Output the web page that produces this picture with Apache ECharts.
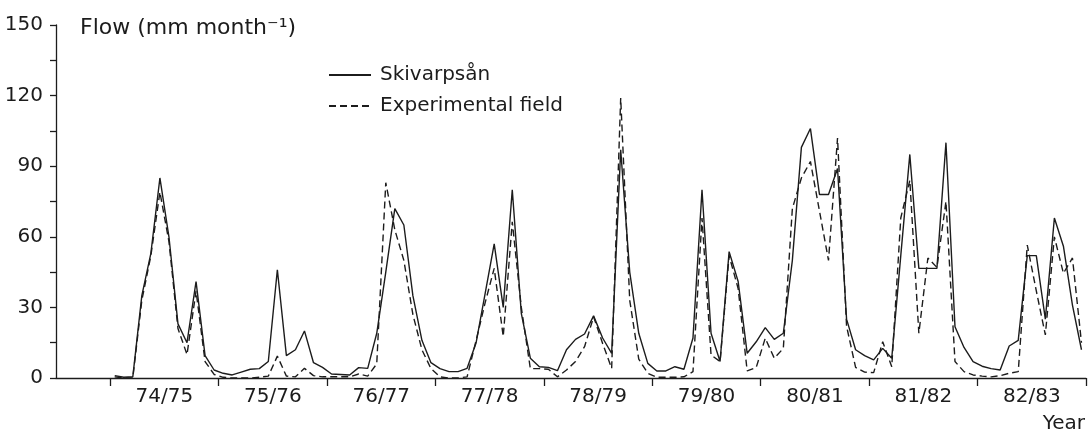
<!DOCTYPE html>
<html>
<head>
<meta charset="utf-8">
<script src="https://cdn.jsdelivr.net/npm/echarts@6/dist/echarts.min.js"></script>
<style>
    html, body { margin: 0; padding: 0; background: #fff; }
    #chart { width: 1088px; height: 437px; }
</style>
</head>
<body>
<div id="chart"></div>
<script>

const years = ['74/75', '75/76', '76/77', '77/78', '78/79', '79/80', '80/81', '81/82', '82/83'];

// monthly flow, 12 values per hydrological year
const skivarpsan = [
    1, 0.3, 0.5, 35, 53, 85, 60, 23, 15, 41, 9.5, 3.4,
    2, 1.3, 2.5, 3.7, 4, 7, 46, 9.5, 12, 20, 6.5, 4.5,
    1.7, 1.5, 1.3, 4.4, 4.1, 19, 45, 72, 65, 35, 16, 6.5,
    4, 2.7, 2.7, 4.1, 15, 36, 57, 30, 80, 27.5, 8.4, 4.8,
    4.5, 3.1, 12, 16.4, 18.7, 26.4, 17, 10.5, 97, 45, 19, 6.2,
    3, 3, 4.8, 3.7, 17, 80, 19, 7, 53.7, 41, 10.5, 15.4,
    21.4, 16.4, 19, 50, 98, 106, 78, 78, 89, 25, 12, 9.5,
    7.7, 12.6, 8.4, 52, 95, 46.6, 46.6, 46.6, 100, 21.8, 13, 7,
    5, 4, 3.4, 13.6, 16, 52, 52, 25, 68, 56, 31, 12
];

const experimentalField = [
    0.5, 0, 0, 33, 52, 79, 58, 21, 10, 37, 7, 1.5,
    0.3, 0, 0, 0, 0.3, 0.8, 9.3, 0.8, 0.5, 4.1, 1, 0.5,
    0.5, 0.5, 0.5, 1.7, 0.8, 6, 83, 63, 50, 27, 12, 4,
    0.5, 0, 0, 0.5, 16, 32, 46.6, 17.6, 66.4, 30, 4, 4,
    3.7, 0.5, 3.4, 7, 13.3, 26, 14.7, 4.1, 119, 33, 8, 2,
    0.3, 0.3, 0.3, 0.5, 2.7, 68, 9.8, 7, 52, 38, 3, 4.5,
    16.9, 8.4, 12.6, 72, 85, 92, 71, 50, 102, 22, 4.5, 2.5,
    2.3, 15.4, 4.8, 68, 84, 19, 51, 47, 75, 7, 2.7, 1.3,
    0.8, 0.5, 1, 2, 2.7, 56.5, 37, 18.3, 60, 44.5, 51, 15
];

const font = '"DejaVu Sans", sans-serif';
const ink = '#1c1c1c';

const chart = echarts.init(document.getElementById('chart'));

// months sit in the middle of their slot, year boundaries on multiples of 12
const toPoints = (arr) => arr.map((v, i) => [i + 0.5, v]);
const yearEdges = years.map((_, i) => i * 12).concat([years.length * 12]);
const yearMids = years.map((_, i) => i * 12 + 6);

const option = {
    animation: false,
    grid: {
        left: 56,
        right: 2,
        top: 25,
        bottom: 59
    },
    legend: {
        orient: 'vertical',
        left: 323,
        top: 59,
        itemWidth: 42,
        itemHeight: 14,
        itemGap: 9,
        itemStyle: { opacity: 0 },
        textStyle: {
            fontFamily: font,
            fontSize: 20,
            color: ink,
            lineHeight: 22,
            padding: [0, 0, 0, 4]
        },
        data: ['Skivarpsån', 'Experimental field']
    },
    xAxis: {
        type: 'value',
        min: -6,
        max: 108,
        splitLine: { show: false },
        axisLine: {
            lineStyle: { color: ink, width: 1.3 }
        },
        axisTick: {
            customValues: yearEdges,
            length: 8,
            lineStyle: { color: ink, width: 1.3 }
        },
        axisLabel: {
            customValues: yearMids,
            formatter: (v) => years[(v - 6) / 12],
            margin: 9,
            fontFamily: font,
            fontSize: 20,
            color: ink
        }
    },
    yAxis: {
        type: 'value',
        min: 0,
        max: 150,
        interval: 30,
        splitLine: { show: false },
        axisLine: {
            show: true,
            onZero: false,
            lineStyle: { color: ink, width: 1.3 }
        },
        axisTick: {
            show: true,
            length: 6,
            lineStyle: { color: ink, width: 1.3 }
        },
        minorTick: {
            show: true,
            splitNumber: 2,
            length: 6,
            lineStyle: { color: ink, width: 1.3 }
        },
        axisLabel: {
            margin: 13,
            fontFamily: font,
            fontSize: 20,
            color: ink
        }
    },
    graphic: [
        {
            type: 'text',
            left: 80,
            top: 17,
            style: {
                text: 'Flow (mm month⁻¹)',
                fontFamily: font,
                fontSize: 22,
                fill: ink
            }
        },
        {
            type: 'text',
            right: 3,
            top: 414,
            style: {
                text: 'Year',
                fontFamily: font,
                fontSize: 20,
                fill: ink
            }
        }
    ],
    series: [
        {
            name: 'Skivarpsån',
            type: 'line',
            symbol: 'none',
            lineStyle: { color: ink, width: 1.4 },
            itemStyle: { color: ink },
            z: 3,
            data: toPoints(skivarpsan)
        },
        {
            name: 'Experimental field',
            type: 'line',
            symbol: 'none',
            lineStyle: { color: ink, width: 1.4, type: [7, 4] },
            itemStyle: { color: ink },
            z: 2,
            data: toPoints(experimentalField)
        }
    ]
};

chart.setOption(option);

</script>
</body>
</html>
